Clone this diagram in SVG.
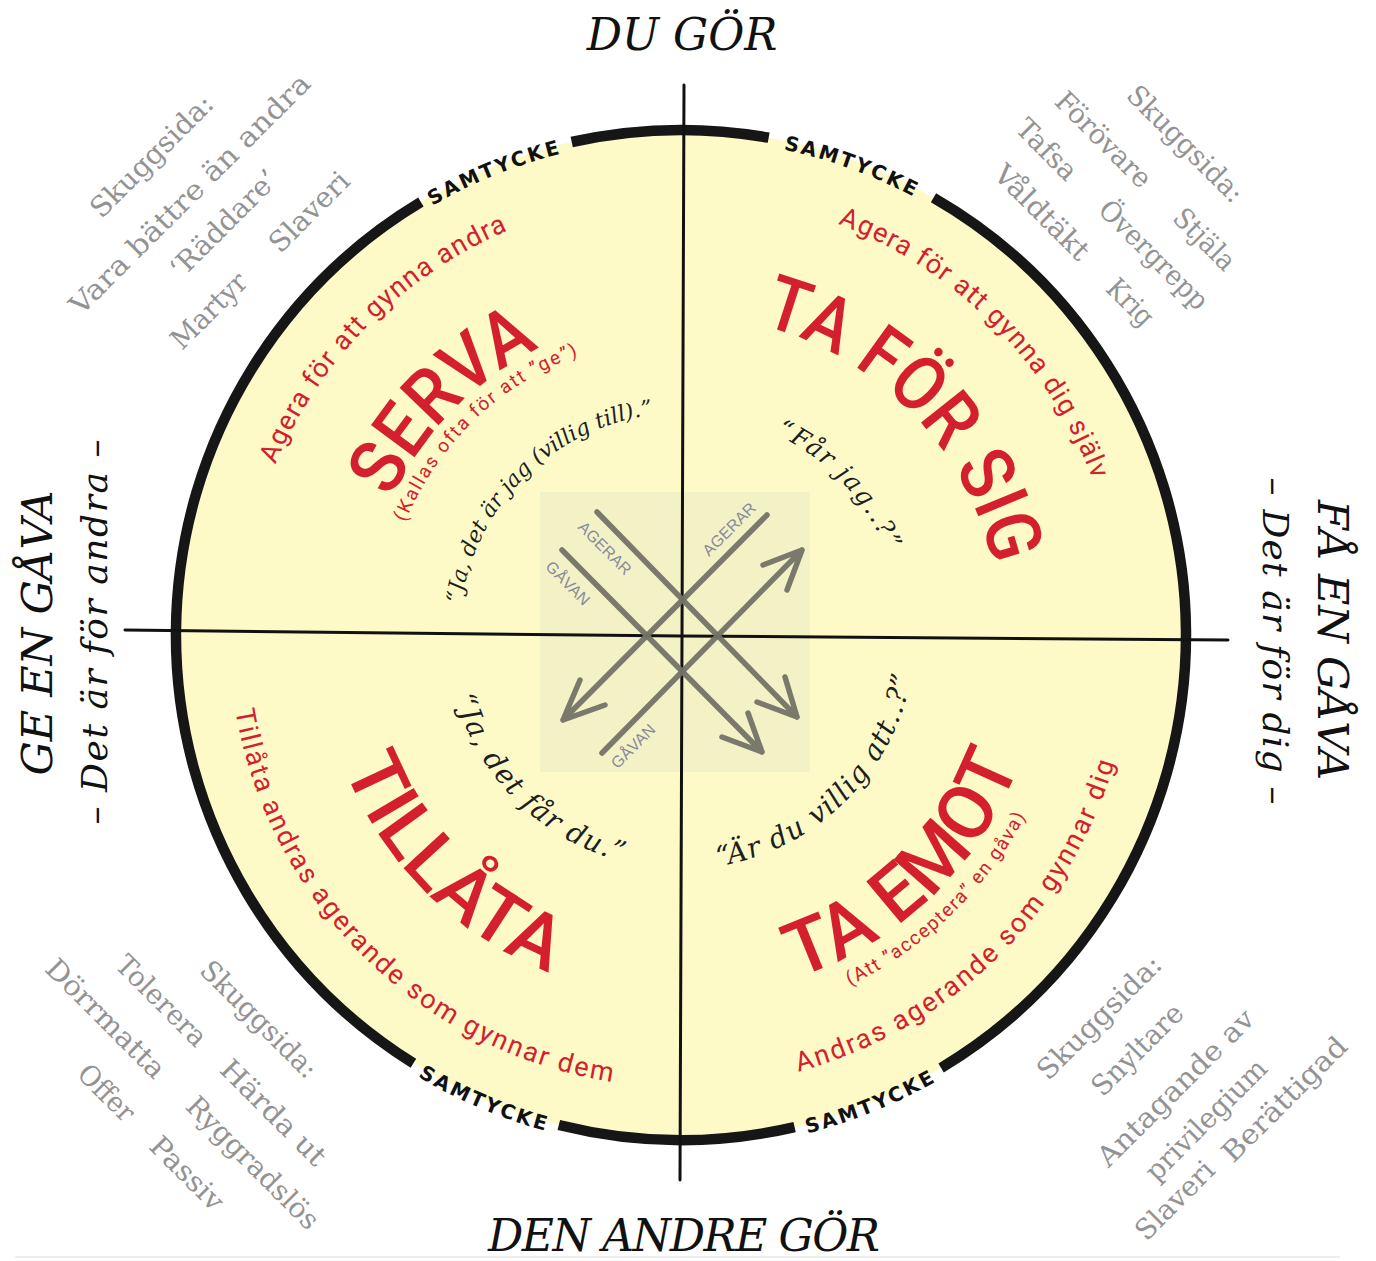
<svg xmlns="http://www.w3.org/2000/svg" xmlns:xlink="http://www.w3.org/1999/xlink" width="1376" height="1261" viewBox="0 0 1376 1261">
<style>
.sh{font-family:"DejaVu Serif",serif;font-size:28px;fill:#939393}
.red{font-family:Roboto,"Liberation Sans",sans-serif;fill:#d4202e}
.q{font-family:"DejaVu Serif",serif;font-style:italic;fill:#1e1e1e}
.ax{font-family:"DejaVu Serif",serif;font-style:italic;fill:#111}
.sam{font-family:"DejaVu Sans","Liberation Sans",sans-serif;font-weight:700;font-size:20px;fill:#111;letter-spacing:1.5px}
.lbl{font-family:"Liberation Sans",sans-serif;font-size:16px;fill:#868b9a}
.ring{fill:none;stroke:#161616;stroke-width:10.5}
.arr{fill:none;stroke:#707064;stroke-width:5.5;stroke-linecap:round;stroke-linejoin:round;opacity:.92}
</style>
<defs>
<path id="t496" d="M251.5,883 A496,496 0 1 1 1110.5,883"/>
<path id="t440" d="M300,855 A440,440 0 1 1 1062,855"/>
<path id="t320" d="M403.9,795 A320,320 0 1 1 958.1,795"/>
<path id="t298" d="M422.9,784 A298,298 0 1 1 939.1,784"/>
<path id="t222" d="M488.7,746 A222,222 0 1 1 873.3,746"/>
<path id="b514" d="M235.9,378 A514,514 0 1 0 1126.1,378"/>
<path id="b452" d="M289.6,409 A452,452 0 1 0 1072.4,409"/>
<path id="b362" d="M367.5,454 A362,362 0 1 0 994.5,454"/>
<path id="b389" d="M344.1,440.5 A389,389 0 1 0 1017.9,440.5"/>
<path id="b234" d="M478.4,518 A234,234 0 1 0 883.6,518"/>
</defs>
<rect width="1376" height="1261" fill="#fff"/>
<line x1="15" y1="1257" x2="1340" y2="1257" stroke="#e8e8e8" stroke-width="1.5"/>

<g id="disc">
<circle cx="681" cy="635" r="505" fill="#fdfac8"/>
<rect x="540" y="492" width="270" height="280" fill="#f3f1c6"/>
</g>

<g id="ring">
<path class="ring" d="M420.9,202.1 A505,505 0 0 0 413.4,1063.3"/>
<path class="ring" d="M558.8,1125 A505,505 0 0 0 794.6,1127.1"/>
<path class="ring" d="M941.1,1067.9 A505,505 0 0 0 933.5,197.7"/>
<path class="ring" d="M768.7,137.7 A505,505 0 0 0 571.7,142"/>
<text class="sam"><textPath href="#t496" xlink:href="#t496" startOffset="40.83%" text-anchor="middle" textLength="140">SAMTYCKE</textPath></text>
<text class="sam"><textPath href="#t496" xlink:href="#t496" startOffset="58.33%" text-anchor="middle" textLength="140">SAMTYCKE</textPath></text>
<text class="sam"><textPath href="#b514" xlink:href="#b514" startOffset="40.42%" text-anchor="middle" textLength="140">SAMTYCKE</textPath></text>
<text class="sam"><textPath href="#b514" xlink:href="#b514" startOffset="59.17%" text-anchor="middle" textLength="140">SAMTYCKE</textPath></text>
</g>

<g id="axes" fill="none" stroke="#111" stroke-width="3" stroke-linecap="round">
<path d="M125,630 L681,636 L1228,640"/>
<path d="M684,85 L682,636 L680,1180"/>
</g>

<g id="connectors">
<path class="arr" d="M597,512 L797,717 M785,677 L797,717 L757,702"/>
<path class="arr" d="M562,550 L762,752 M748,713 L762,752 L722,737"/>
<path class="arr" d="M767,515 L563,720 M580,680 L563,720 L605,705"/>
<path class="arr" d="M602,753 L802,550 M763,565 L802,550 L787,590"/>
<text class="lbl" text-anchor="middle" transform="translate(601,552) rotate(45)">AGERAR</text>
<text class="lbl" text-anchor="middle" transform="translate(564,587) rotate(45)">GÅVAN</text>
<text class="lbl" text-anchor="middle" transform="translate(733,533) rotate(-45)">AGERAR</text>
<text class="lbl" text-anchor="middle" transform="translate(637,750) rotate(-45)">GÅVAN</text>
</g>

<g id="axis-labels">
<text class="ax" x="682" y="50" font-size="44" text-anchor="middle">DU GÖR</text>
<text class="ax" x="684" y="1251" font-size="44" text-anchor="middle" textLength="392">DEN ANDRE GÖR</text>
<text class="ax" font-size="43" text-anchor="middle" transform="translate(52,633) rotate(-90)" textLength="285">GE EN GÅVA</text>
<text class="ax" font-size="36" text-anchor="middle" transform="translate(107,632) rotate(-90)" textLength="385">– Det är för andra –</text>
<text class="ax" font-size="43" text-anchor="middle" transform="translate(1318,640) rotate(90)" textLength="280">FÅ EN GÅVA</text>
<text class="ax" font-size="36" text-anchor="middle" transform="translate(1263,641) rotate(90)" textLength="327">– Det är för dig –</text>
</g>

<g id="serva">
<text class="red" font-size="27"><textPath href="#t440" xlink:href="#t440" startOffset="31.17%" text-anchor="middle" textLength="338">Agera för att gynna andra</textPath></text>
<text class="red" font-size="76" font-weight="500"><textPath href="#t320" xlink:href="#t320" startOffset="31.04%" text-anchor="middle" textLength="216" lengthAdjust="spacingAndGlyphs">SERVA</textPath></text>
<text class="red" font-size="19"><textPath href="#t298" xlink:href="#t298" startOffset="31.67%" text-anchor="middle" textLength="247">(Kallas ofta för att ”ge”)</textPath></text>
<text class="q" font-size="22"><textPath href="#t222" xlink:href="#t222" startOffset="31.42%" text-anchor="middle" textLength="289">“Ja, det är jag (villig till).”</textPath></text>
</g>

<g id="ta-for-sig">
<text class="red" font-size="27"><textPath href="#t440" xlink:href="#t440" startOffset="68.79%" text-anchor="middle" textLength="372">Agera för att gynna dig själv</textPath></text>
<text class="red" font-size="76" font-weight="500"><textPath href="#t320" xlink:href="#t320" startOffset="69.17%" text-anchor="middle" textLength="352" lengthAdjust="spacingAndGlyphs">TA FÖR SIG</textPath></text>
<text class="q" font-size="25"><textPath href="#t222" xlink:href="#t222" startOffset="69.38%" text-anchor="middle" textLength="164">“Får jag..?”</textPath></text>
</g>

<g id="tillata">
<text class="red" font-size="27"><textPath href="#b452" xlink:href="#b452" startOffset="31.42%" text-anchor="middle" textLength="565">Tillåta andras agerande som gynnar dem</textPath></text>
<text class="red" font-size="76" font-weight="500"><textPath href="#b362" xlink:href="#b362" startOffset="31.25%" text-anchor="middle" textLength="299" lengthAdjust="spacingAndGlyphs">TILLÅTA</textPath></text>
<text class="q" font-size="28"><textPath href="#b234" xlink:href="#b234" startOffset="31.42%" text-anchor="middle" textLength="246">“Ja, det får du.”</textPath></text>
</g>

<g id="ta-emot">
<text class="red" font-size="27"><textPath href="#b452" xlink:href="#b452" startOffset="68.46%" text-anchor="middle" textLength="462">Andras agerande som gynnar dig</textPath></text>
<text class="red" font-size="76" font-weight="500"><textPath href="#b362" xlink:href="#b362" startOffset="68.33%" text-anchor="middle" textLength="320" lengthAdjust="spacingAndGlyphs">TA EMOT</textPath></text>
<text class="red" font-size="19"><textPath href="#b389" xlink:href="#b389" startOffset="68.33%" text-anchor="middle" textLength="248">(Att ”acceptera” en gåva)</textPath></text>
<text class="q" font-size="28"><textPath href="#b234" xlink:href="#b234" startOffset="68.54%" text-anchor="middle" textLength="290">“Är du villig att..?”</textPath></text>
</g>

<g id="shadow-serva" class="sh" text-anchor="middle" transform="rotate(-45)">
<text x="-3" y="227" textLength="161" lengthAdjust="spacingAndGlyphs">Skuggsida:</text>
<text x="-3" y="281" textLength="327" lengthAdjust="spacingAndGlyphs">Vara bättre än andra</text>
<text x="0" y="326" textLength="139" lengthAdjust="spacingAndGlyphs">‘Räddare’</text>
<text x="-72" y="377" textLength="95" lengthAdjust="spacingAndGlyphs">Martyr</text>
<text x="69" y="378" textLength="101" lengthAdjust="spacingAndGlyphs">Slaveri</text>
</g>

<g id="shadow-ta-for-sig" class="sh" text-anchor="middle" transform="rotate(45)">
<text x="940" y="-727" textLength="152" lengthAdjust="spacingAndGlyphs">Skuggsida:</text>
<text x="879" y="-672" textLength="123" lengthAdjust="spacingAndGlyphs">Förövare</text>
<text x="1021" y="-673" textLength="75" lengthAdjust="spacingAndGlyphs">Stjäla</text>
<text x="846" y="-625" textLength="74" lengthAdjust="spacingAndGlyphs">Tafsa</text>
<text x="996" y="-626" textLength="142" lengthAdjust="spacingAndGlyphs">Övergrepp</text>
<text x="887" y="-577" textLength="122" lengthAdjust="spacingAndGlyphs">Våldtäkt</text>
<text x="1013" y="-576" textLength="54" lengthAdjust="spacingAndGlyphs">Krig</text>
</g>

<g id="shadow-tillata" class="sh" text-anchor="middle" transform="rotate(45)">
<text x="904" y="547" textLength="153" lengthAdjust="spacingAndGlyphs">Skuggsida:</text>
<text x="822" y="603" textLength="116" lengthAdjust="spacingAndGlyphs">Tolerera</text>
<text x="980" y="603" textLength="137" lengthAdjust="spacingAndGlyphs">Härda ut</text>
<text x="795" y="655" textLength="156" lengthAdjust="spacingAndGlyphs">Dörrmatta</text>
<text x="1001" y="653" textLength="175" lengthAdjust="spacingAndGlyphs">Ryggradslös</text>
<text x="848" y="707" textLength="68" lengthAdjust="spacingAndGlyphs">Offer</text>
<text x="962" y="707" textLength="92" lengthAdjust="spacingAndGlyphs">Passiv</text>
</g>

<g id="shadow-ta-emot" class="sh" text-anchor="middle" transform="rotate(-45)">
<text x="58" y="1506" textLength="163" lengthAdjust="spacingAndGlyphs">Skuggsida:</text>
<text x="62" y="1556" textLength="117" lengthAdjust="spacingAndGlyphs">Snyltare</text>
<text x="62" y="1610" textLength="209" lengthAdjust="spacingAndGlyphs">Antagande av</text>
<text x="61" y="1654" textLength="159" lengthAdjust="spacingAndGlyphs">privilegium</text>
<text x="-18" y="1689" textLength="99" lengthAdjust="spacingAndGlyphs">Slaveri</text>
<text x="131" y="1695" textLength="164" lengthAdjust="spacingAndGlyphs">Berättigad</text>
</g>
</svg>
